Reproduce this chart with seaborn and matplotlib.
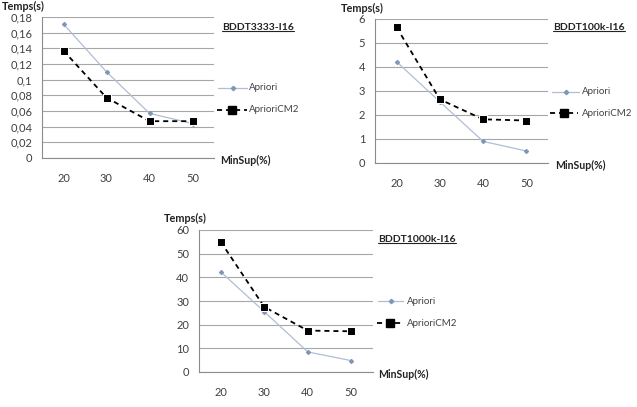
import numpy as np
import pandas as pd
import matplotlib
matplotlib.use('Agg')
import matplotlib.pyplot as plt
import seaborn as sns
from matplotlib.lines import Line2D
from matplotlib.ticker import FixedLocator, FuncFormatter

# Data
minSup = ['20', '30', '40', '50']

apriori3333 = [0.171, 0.110, 0.057, 0.044]
aprioriCM2_3333 = [0.137, 0.077, 0.047, 0.047]

apriori100k = [4.22, 2.55, 0.90, 0.50]
aprioriCM2_100k = [5.65, 2.65, 1.82, 1.77]

apriori1000k = [42.3, 25.5, 8.5, 4.8]
aprioriCM2_1000k = [55.0, 27.5, 17.5, 17.2]

titles = ['BDDT3333-I16', 'BDDT100k-I16', 'BDDT1000k-I16']
yMaxList = [0.18, 6, 60]
yStepList = [0.02, 1, 10]

W, H = 637, 407
aprioriColor = '#aebfd4'
aprioriMarkerColor = '#8096b8'
textColor = '#404040'
gridColor = '#a6a6a6'


def px(x, y):
    return x / W, 1 - y / H


def make_frame(apr, cm2):
    return pd.DataFrame({
        'MinSup': minSup * 2,
        'Temps': apr + cm2,
        'Serie': ['Apriori'] * 4 + ['AprioriCM2'] * 4,
    })


def draw_panel(fig, box, df, yMax, yStep):
    left, top, right, bottom = box
    ax = fig.add_axes([left / W, 1 - bottom / H, (right - left) / W, (bottom - top) / H])

    sns.lineplot(data=df[df['Serie'] == 'Apriori'], x='MinSup', y='Temps', ax=ax,
                 color=aprioriColor, linewidth=0.9, marker='D', markersize=2.2,
                 markerfacecolor=aprioriMarkerColor, markeredgecolor=aprioriMarkerColor,
                 errorbar=None, legend=False, sort=False, clip_on=False, zorder=3)
    sns.lineplot(data=df[df['Serie'] == 'AprioriCM2'], x='MinSup', y='Temps', ax=ax,
                 color='black', linewidth=1.3, linestyle=(0, (2.8, 2.2)), marker='s',
                 markersize=6, errorbar=None, legend=False, sort=False, clip_on=False, zorder=4)

    ax.set_xlim(-0.5, 3.5)
    ax.set_ylim(0, yMax)
    yTicks = np.round(np.arange(0, yMax + yStep / 2, yStep), 3)
    ax.yaxis.set_major_locator(FixedLocator(yTicks))
    ax.yaxis.set_major_formatter(FuncFormatter(lambda v, p: f'{round(v, 3):g}'.replace('.', ',')))
    ax.xaxis.set_minor_locator(FixedLocator([-0.5, 0.5, 1.5, 2.5, 3.5]))

    ax.tick_params(axis='x', which='major', length=0, pad=11, labelsize=8, labelcolor=textColor)
    ax.tick_params(axis='x', which='minor', length=4, width=0.8, color='#8c8c8c', direction='out')
    ax.tick_params(axis='y', which='major', length=3, width=0.8, color='#8c8c8c', pad=4,
                   labelsize=8, labelcolor=textColor)

    ax.yaxis.grid(True, color=gridColor, linewidth=0.8)
    ax.xaxis.grid(False)
    ax.set_axisbelow(True)
    for side in ['top', 'right']:
        ax.spines[side].set_visible(False)
    for side in ['left', 'bottom']:
        ax.spines[side].set_color('#8c8c8c')
        ax.spines[side].set_linewidth(0.8)
    ax.set_xlabel('')
    ax.set_ylabel('')
    return ax


def draw_legend(fig, aprRow, cm2Row):
    # aprRow / cm2Row: (x0, x1, y, textX) in pixels
    x0, x1, y, tx = aprRow
    fig.add_artist(Line2D([x0 / W, x1 / W], [1 - y / H] * 2, transform=fig.transFigure,
                          color=aprioriColor, linewidth=0.9))
    fig.add_artist(Line2D([(x0 + x1) / 2 / W], [1 - y / H], transform=fig.transFigure,
                          marker='D', markersize=2.2, color=aprioriMarkerColor, linestyle='none'))
    fig.text(*px(tx, y), 'Apriori', fontsize=7, color=textColor, va='center', ha='left')

    x0, x1, y, tx = cm2Row
    fig.add_artist(Line2D([x0 / W, x1 / W], [1 - y / H] * 2, transform=fig.transFigure,
                          color='black', linewidth=1.3, linestyle=(0, (2.8, 2.2))))
    fig.add_artist(Line2D([(x0 + x1) / 2 / W], [1 - y / H], transform=fig.transFigure,
                          marker='s', markersize=6, color='black', linestyle='none'))
    fig.text(*px(tx, y), 'AprioriCM2', fontsize=7, color=textColor, va='center', ha='left')


sns.set_style('white')
plt.rcParams['font.family'] = ['Lato', 'DejaVu Sans']

fig = plt.figure(figsize=(W / 100, H / 100), dpi=100)

frames = [make_frame(apriori3333, aprioriCM2_3333),
          make_frame(apriori100k, aprioriCM2_100k),
          make_frame(apriori1000k, aprioriCM2_1000k)]
boxes = [(42, 17, 214, 158), (375, 19, 548, 163), (199, 230, 373, 372)]

for df, box, yMax, yStep in zip(frames, boxes, yMaxList, yStepList):
    draw_panel(fig, box, df, yMax, yStep)

# Axis captions and titles
tempsPos = [(23, 6), (362, 8), (185, 218)]
minSupPos = [(220, 160), (555, 165), (378, 374)]
titlePos = [(222, 27), (553, 27), (378, 239)]

for (tx, ty) in tempsPos:
    fig.text(*px(tx, ty), 'Temps(s)', fontsize=7.8, fontweight='bold', color='#222222',
             ha='center', va='center')
for (mx, my) in minSupPos:
    fig.text(*px(mx, my), 'MinSup(%)', fontsize=7.6, fontweight='bold', color='#222222',
             ha='left', va='center')
titleTexts = []
for title, (bx, by) in zip(titles, titlePos):
    titleTexts.append(fig.text(*px(bx, by), title, fontsize=7.5, fontweight='bold',
                               color='#222222', ha='left', va='center'))

# Underline the titles
fig.canvas.draw()
renderer = fig.canvas.get_renderer()
for txt in titleTexts:
    bb = txt.get_window_extent(renderer=renderer)
    yLine = bb.y0 + 1
    fig.add_artist(Line2D([bb.x0 / W, bb.x1 / W], [yLine / H] * 2, transform=fig.transFigure,
                          color='#222222', linewidth=0.8))

draw_legend(fig, (218, 247, 88, 249), (217, 247, 110, 249))
draw_legend(fig, (552, 579, 92, 582), (550, 578, 113, 582))
draw_legend(fig, (378, 403, 301, 407), (377, 403, 323, 407))

fig.savefig('out.png', dpi=100)
